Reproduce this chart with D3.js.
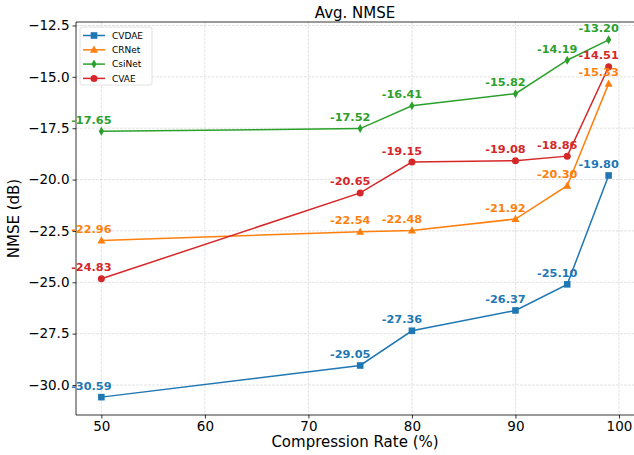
<!DOCTYPE html>
<html>
<head>
<meta charset="utf-8">
<script src="https://cdn.jsdelivr.net/npm/d3@7"></script>
<style>
  body { margin: 0; background: #fff; }
  text { font-family: "DejaVu Sans", sans-serif; }
</style>
</head>
<body>
<svg id="chart" width="634" height="455"></svg>
<script>
// compression rates on x
var rates = [50, 75, 80, 90, 95, 99];

var cvdae = [-30.59, -29.05, -27.36, -26.37, -25.10, -19.80];
var crnet = [-22.96, -22.54, -22.48, -21.92, -20.30, -15.33];
var csinet = [-17.65, -17.52, -16.41, -15.82, -14.19, -13.20];
var cvae = [-24.83, -20.65, -19.15, -19.08, -18.86, -14.51];

var seriesNames = ['CVDAE', 'CRNet', 'CsiNet', 'CVAE'];
var xTicks = [50, 60, 70, 80, 90, 100];
var yTicks = [-30.0, -27.5, -25.0, -22.5, -20.0, -17.5, -15.0, -12.5];

var series = [
  { name: seriesNames[0], values: cvdae, color: '#1f77b4', marker: 'square' },
  { name: seriesNames[1], values: crnet, color: '#ff7f0e', marker: 'triangle' },
  { name: seriesNames[2], values: csinet, color: '#2ca02c', marker: 'diamond' },
  { name: seriesNames[3], values: cvae, color: '#d62728', marker: 'circle' }
];

var svg = d3.select('#chart');
// plot box (window.top is reserved, so use other names)
var pLeft = 76, pRight = 634, pTop = 22, pBottom = 415;

var x = d3.scaleLinear().domain([47.55, 101.45]).range([pLeft, pRight]);
var y = d3.scaleLinear().domain([-31.46, -12.33]).range([pBottom, pTop]);

// grid
var grid = svg.append('g');
xTicks.forEach(function(t) {
  grid.append('line')
    .attr('x1', x(t)).attr('x2', x(t))
    .attr('y1', pTop).attr('y2', pBottom)
    .attr('stroke', '#dadada').attr('stroke-width', 0.8)
    .attr('stroke-dasharray', '2.8,1.2');
});
yTicks.forEach(function(t) {
  grid.append('line')
    .attr('x1', pLeft).attr('x2', pRight)
    .attr('y1', y(t)).attr('y2', y(t))
    .attr('stroke', '#dadada').attr('stroke-width', 0.8)
    .attr('stroke-dasharray', '2.8,1.2');
});

// axes
var fmtY = function(d) { return d3.format('.1f')(d).replace('-', '\u2212'); };
var xAxis = svg.append('g')
  .attr('transform', 'translate(0,' + pBottom + ')')
  .call(d3.axisBottom(x).tickValues(xTicks).tickSize(3.5).tickSizeOuter(0).tickPadding(3));
var yAxis = svg.append('g')
  .attr('transform', 'translate(' + pLeft + ',0)')
  .call(d3.axisLeft(y).tickValues(yTicks).tickFormat(fmtY).tickSize(3.5).tickSizeOuter(0).tickPadding(3));

[xAxis, yAxis].forEach(function(a) {
  a.selectAll('text').attr('font-size', 13.5).attr('fill', '#000')
    .style('font-family', '"DejaVu Sans", sans-serif');
  a.selectAll('.tick line').attr('stroke', '#000').attr('stroke-width', 0.8);
  a.select('.domain').remove();
});

// spines
svg.append('line').attr('x1', pLeft).attr('x2', pLeft).attr('y1', pTop).attr('y2', pBottom)
  .attr('stroke', '#000').attr('stroke-width', 0.8);
svg.append('line').attr('x1', pLeft).attr('x2', pRight).attr('y1', pBottom).attr('y2', pBottom)
  .attr('stroke', '#000').attr('stroke-width', 0.8);
svg.append('line').attr('x1', pLeft).attr('x2', pRight).attr('y1', pTop).attr('y2', pTop)
  .attr('stroke', '#000').attr('stroke-width', 0.8);

function drawMarker(g, type, cx, cy, color) {
  if (type === 'square') {
    g.append('rect').attr('x', cx - 3.3).attr('y', cy - 3.3).attr('width', 6.6).attr('height', 6.6)
      .attr('fill', color);
  } else if (type === 'triangle') {
    g.append('path').attr('d', 'M' + cx + ',' + (cy - 4.2) + 'L' + (cx + 4) + ',' + (cy + 3) + 'L' + (cx - 4) + ',' + (cy + 3) + 'Z')
      .attr('fill', color);
  } else if (type === 'diamond') {
    g.append('path').attr('d', 'M' + cx + ',' + (cy - 4.5) + 'L' + (cx + 2.6) + ',' + cy + 'L' + cx + ',' + (cy + 4.5) + 'L' + (cx - 2.6) + ',' + cy + 'Z')
      .attr('fill', color);
  } else {
    g.append('circle').attr('cx', cx).attr('cy', cy).attr('r', 3.5).attr('fill', color);
  }
}

var line = d3.line()
  .x(function(d, i) { return x(rates[i]); })
  .y(function(d) { return y(d); });

series.forEach(function(s) {
  var g = svg.append('g');
  g.append('path').attr('d', line(s.values))
    .attr('fill', 'none').attr('stroke', s.color).attr('stroke-width', 1.5);
  s.values.forEach(function(v, i) {
    drawMarker(g, s.marker, x(rates[i]), y(v), s.color);
  });
});

// value labels, a bit up and to the left of each point
series.forEach(function(s) {
  s.values.forEach(function(v, i) {
    svg.append('text')
      .attr('x', x(rates[i]) - 10).attr('y', y(v) - 7.5)
      .attr('text-anchor', 'middle')
      .attr('font-size', 11.3).attr('font-weight', 'bold')
      .attr('fill', s.color)
      .text(v.toFixed(2));
  });
});

// title and labels
svg.append('text').attr('x', (pLeft + pRight) / 2).attr('y', 18)
  .attr('text-anchor', 'middle').attr('font-size', 15).text('Avg. NMSE');
svg.append('text').attr('x', (pLeft + pRight) / 2).attr('y', 447)
  .attr('text-anchor', 'middle').attr('font-size', 15).text('Compression Rate (%)');
svg.append('text')
  .attr('transform', 'translate(19,' + ((pTop + pBottom) / 2) + ') rotate(-90)')
  .attr('text-anchor', 'middle').attr('font-size', 15).text('NMSE (dB)');

// legend
var lg = svg.append('g').attr('transform', 'translate(80,27)');
lg.append('rect').attr('width', 72).attr('height', 58).attr('rx', 2)
  .attr('fill', '#fff').attr('fill-opacity', 0.8)
  .attr('stroke', '#d9d9d9').attr('stroke-width', 0.8);
series.forEach(function(s, i) {
  var yy = 8.5 + i * 14.3;
  lg.append('line').attr('x1', 3).attr('x2', 25).attr('y1', yy).attr('y2', yy)
    .attr('stroke', s.color).attr('stroke-width', 1.5);
  drawMarker(lg, s.marker, 14, yy, s.color);
  lg.append('text').attr('x', 32).attr('y', yy + 3.3)
    .attr('font-size', 9).attr('fill', '#000').text(s.name);
});
</script>
</body>
</html>
